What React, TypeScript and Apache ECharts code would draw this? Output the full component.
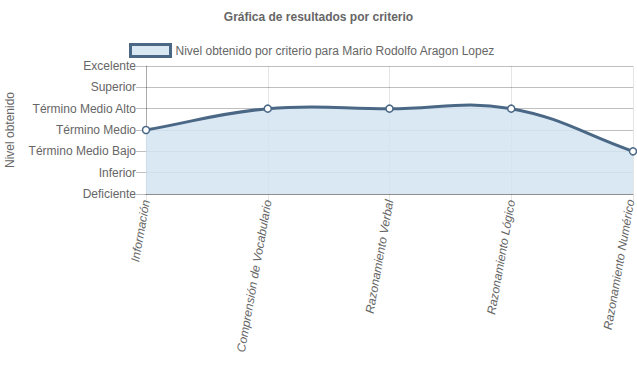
import React, { useEffect, useRef } from "react";
import * as echarts from "echarts";

const categories = [
  "Información",
  "Comprensión de Vocabulario",
  "Razonamiento Verbal",
  "Razonamiento Lógico",
  "Razonamiento Numérico",
];
const levelLabels = [
  "Deficiente",
  "Inferior",
  "Término Medio Bajo",
  "Término Medio",
  "Término Medio Alto",
  "Superior",
  "Excelente",
];
const values = [3, 4, 4, 4, 2];
const seriesName = "Nivel obtenido por criterio para Mario Rodolfo Aragon Lopez";

const FONT = "'Liberation Sans', Arial, Helvetica, sans-serif";
const LINE = "#4a6885";
const FILL = "#d4e4f2";
const LEGEND_FILL = "#dae8f4";
const TENSION = 0.4;

type P = [number, number];

function splinePath(pts: P[]): string {
  const cps: { a: P; b: P }[] = pts.map((cur, i) => {
    const prev = pts[i - 1] || cur;
    const next = pts[i + 1] || cur;
    const d01 = Math.hypot(cur[0] - prev[0], cur[1] - prev[1]);
    const d12 = Math.hypot(next[0] - cur[0], next[1] - cur[1]);
    let s01 = d01 / (d01 + d12);
    let s12 = d12 / (d01 + d12);
    if (!isFinite(s01)) s01 = 0;
    if (!isFinite(s12)) s12 = 0;
    const fa = TENSION * s01;
    const fb = TENSION * s12;
    return {
      a: [cur[0] - fa * (next[0] - prev[0]), cur[1] - fa * (next[1] - prev[1])],
      b: [cur[0] + fb * (next[0] - prev[0]), cur[1] + fb * (next[1] - prev[1])],
    };
  });
  let d = `M${pts[0][0]},${pts[0][1]}`;
  for (let i = 1; i < pts.length; i++) {
    const c1 = cps[i - 1].b;
    const c2 = cps[i].a;
    d += ` C${c1[0]},${c1[1]} ${c2[0]},${c2[1]} ${pts[i][0]},${pts[i][1]}`;
  }
  return d;
}

export default function App() {
  const ref = useRef<HTMLDivElement>(null);
  useEffect(() => {
    document.body.style.margin = "0";
    const chart = echarts.init(ref.current!, null, { renderer: "svg" });
    const lastIdx = categories.length - 1;
    chart.setOption({
      animation: false,
      textStyle: { fontFamily: FONT },
      title: {
        text: "Gráfica de resultados por criterio",
        left: "center",
        top: 6,
        textStyle: { fontFamily: FONT, fontSize: 12, fontWeight: "bold", color: "#666" },
      },
      legend: {
        top: 38,
        left: 124,
        itemWidth: 40,
        itemHeight: 12,
        icon: "rect",
        textStyle: { fontFamily: FONT, fontSize: 12, color: "#666" },
        data: [
          {
            name: seriesName,
            itemStyle: { color: LEGEND_FILL, borderColor: LINE, borderWidth: 3 },
          },
        ],
      },
      grid: {
        left: 146,
        right: 4,
        top: 66,
        bottom: 195,
        containLabel: false,
        outerBoundsMode: "none",
      },
      xAxis: {
        type: "category",
        data: categories.map((c, i) =>
          i === lastIdx
            ? { value: c, textStyle: { verticalAlign: "bottom", lineHeight: 5 } }
            : c
        ),
        boundaryGap: false,
        axisLine: { show: true, lineStyle: { color: "rgba(0,0,0,0.25)" } },
        axisTick: { show: true, length: 10, alignWithLabel: true, lineStyle: { color: "rgba(0,0,0,0.1)" } },
        axisLabel: {
          rotate: 80,
          margin: 6,
          fontFamily: FONT,
          fontSize: 12,
          fontStyle: "italic",
          color: "#666",
        },
        splitLine: { show: true, lineStyle: { color: "rgba(0,0,0,0.1)" } },
      },
      yAxis: {
        type: "value",
        min: 0,
        max: 6,
        interval: 1,
        name: "Nivel obtenido",
        nameLocation: "middle",
        nameRotate: 90,
        nameGap: 130,
        nameTextStyle: { fontFamily: FONT, fontSize: 12, color: "#666" },
        axisLine: { show: true, lineStyle: { color: "rgba(0,0,0,0.25)" } },
        axisTick: { show: true, length: 10, lineStyle: { color: "rgba(0,0,0,0.25)" } },
        axisLabel: {
          margin: 10,
          fontFamily: FONT,
          fontSize: 12,
          color: "#666",
          formatter: (v: number) => levelLabels[v] ?? "",
        },
        splitLine: { show: true, lineStyle: { color: "rgba(0,0,0,0.25)" } },
      },
      series: [
        {
          name: seriesName,
          type: "custom",
          data: values.map((v, i) => [i, v]),
          z: 2,
          renderItem: (params: any, api: any) => {
            if (params.dataIndex !== 0) return null;
            const pts: P[] = values.map((v, i) => api.coord([i, v]) as P);
            const bottom = api.coord([0, 0])[1];
            const line = splinePath(pts);
            const area =
              line +
              ` L${pts[pts.length - 1][0]},${bottom} L${pts[0][0]},${bottom} Z`;
            return {
              type: "group",
              children: [
                {
                  type: "path",
                  shape: { pathData: area },
                  style: { fill: FILL, stroke: "none", opacity: 0.85 },
                },
                {
                  type: "path",
                  shape: { pathData: line },
                  style: { fill: "none", stroke: LINE, lineWidth: 3 },
                },
              ],
            };
          },
        },
        {
          name: seriesName,
          type: "line",
          data: values,
          symbol: "circle",
          symbolSize: 7,
          showAllSymbol: true,
          lineStyle: { width: 0, opacity: 0 },
          itemStyle: { color: "#fff", borderColor: LINE, borderWidth: 1.5 },
          z: 3,
        },
      ],
    });
    return () => chart.dispose();
  }, []);
  return <div ref={ref} style={{ width: 637, height: 389 }} />;
}
